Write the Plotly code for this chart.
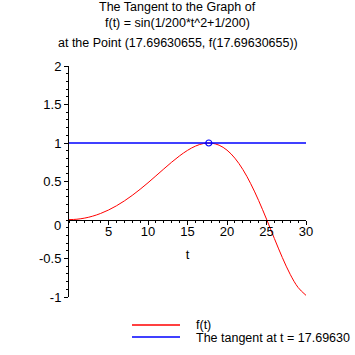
import plotly.graph_objects as go

t_vals = [0, 1, 2, 3, 4, 5, 6, 7, 8, 9, 10, 11, 12, 13, 14, 15, 16, 17, 18, 19,
          20, 21, 22, 23, 24, 25, 26, 27, 28, 29, 30]
f_vals = [0.0050, 0.0100, 0.0250, 0.0500, 0.0849, 0.1296, 0.1839, 0.2474, 0.3193,
          0.3986, 0.4838, 0.5729, 0.6631, 0.7513, 0.8333, 0.9044, 0.9594, 0.9927,
          0.9985, 0.9715, 0.9072, 0.8026, 0.6568, 0.4720, 0.2538, 0.0116, -0.2410,
          -0.4868, -0.7057, -0.8764, -0.9786]

tangent_t = [0, 30]
tangent_y = [1, 1]
point_t = [17.69630655]
point_y = [1.0]

title_lines = ["The Tangent to the Graph of",
               "f(t) = sin(1/200*t^2+1/200)",
               "at the Point (17.69630655, f(17.69630655))"]
legend_names = ["f(t)", "The tangent at t = 17.69630"]
legend_colors = ["#ff0000", "#0000ff"]

x_tickvals = [5, 10, 15, 20, 25, 30]
x_ticktext = ["5", "10", "15", "20", "25", "30"]
y_tickvals = [-1, -0.5, 0.5, 1, 1.5, 2]
y_ticktext = ["-1", "-0.5", "0.5", "1", "1.5", "2"]

font = "Liberation Sans, Arial, sans-serif"

# plot area in pixels: x 69..306, y 66..297
L, R, T, B = 69, 306, 66, 297
W, H = R - L, B - T


def px_x(px):
    return (px - L) / W


def px_y(py):
    return (B - py) / H


fig = go.Figure()
fig.add_trace(go.Scatter(x=t_vals, y=f_vals, mode="lines", name=legend_names[0],
                         line=dict(color=legend_colors[0], width=1, shape="spline"),
                         showlegend=False))
fig.add_trace(go.Scatter(x=tangent_t, y=tangent_y, mode="lines",
                         name=legend_names[1],
                         line=dict(color=legend_colors[1], width=1.5),
                         showlegend=False))
fig.add_trace(go.Scatter(x=point_t, y=point_y, mode="markers", showlegend=False,
                         marker=dict(symbol="circle-open", color="#0000ff", size=6,
                                     line=dict(width=1.2))))

annotations = []
for txt, py in zip(title_lines, [7, 23, 43]):
    annotations.append(dict(text=txt, xref="paper", yref="paper",
                            x=px_x(177.5), y=px_y(py), xanchor="center",
                            yanchor="middle", showarrow=False,
                            font=dict(family=font, size=12.5, color="black")))

# "0" label on the y axis, nudged below the x axis as in the reference
annotations.append(dict(text="0", xref="paper", yref="y", x=0, y=0,
                        xanchor="right", yanchor="middle", xshift=-6, yshift=-5,
                        showarrow=False, font=dict(family=font, size=13, color="black")))

shapes = []
for name, col, py in zip(legend_names, legend_colors, [325, 337]):
    shapes.append(dict(type="line", xref="paper", yref="paper",
                       x0=px_x(132), x1=px_x(180), y0=px_y(py), y1=px_y(py),
                       line=dict(color=col, width=1.3)))
for name, py in zip(legend_names, [325, 338]):
    annotations.append(dict(text=name, xref="paper", yref="paper",
                            x=px_x(194), y=px_y(py), xanchor="left",
                            yanchor="middle", showarrow=False,
                            font=dict(family=font, size=12.5, color="black")))

fig.update_layout(
    width=355, height=355,
    margin=dict(l=L, r=355 - R, t=T, b=355 - B, autoexpand=False),
    paper_bgcolor="white", plot_bgcolor="white",
    font=dict(family=font, size=13, color="black"),
    showlegend=False,
    annotations=annotations,
    shapes=shapes,
    xaxis=dict(range=[0, 30], anchor="free", position=1/3,
               showline=True, linecolor="black", linewidth=1,
               showgrid=False, zeroline=False,
               tickmode="array", tickvals=x_tickvals, ticktext=x_ticktext,
               ticks="outside", ticklen=4, tickcolor="black",
               tickfont=dict(size=13), ticklabelstandoff=-5,
               minor=dict(tickmode="linear", tick0=0, dtick=1, ticks="outside",
                          ticklen=2, tickcolor="black"),
               title=dict(text="t", standoff=12, font=dict(size=13))),
    yaxis=dict(range=[-1, 2], showline=True, linecolor="black", linewidth=1,
               showgrid=False, zeroline=False,
               tickmode="array", tickvals=y_tickvals, ticktext=y_ticktext,
               ticks="outside", ticklen=4, tickcolor="black",
               tickfont=dict(size=13),
               minor=dict(tickmode="linear", tick0=0, dtick=0.1, ticks="outside",
                          ticklen=2, tickcolor="black")),
)

fig.write_html("out.html", config={"displayModeBar": False},
               post_script="document.body.style.margin='0';document.body.style.overflow='hidden';")
